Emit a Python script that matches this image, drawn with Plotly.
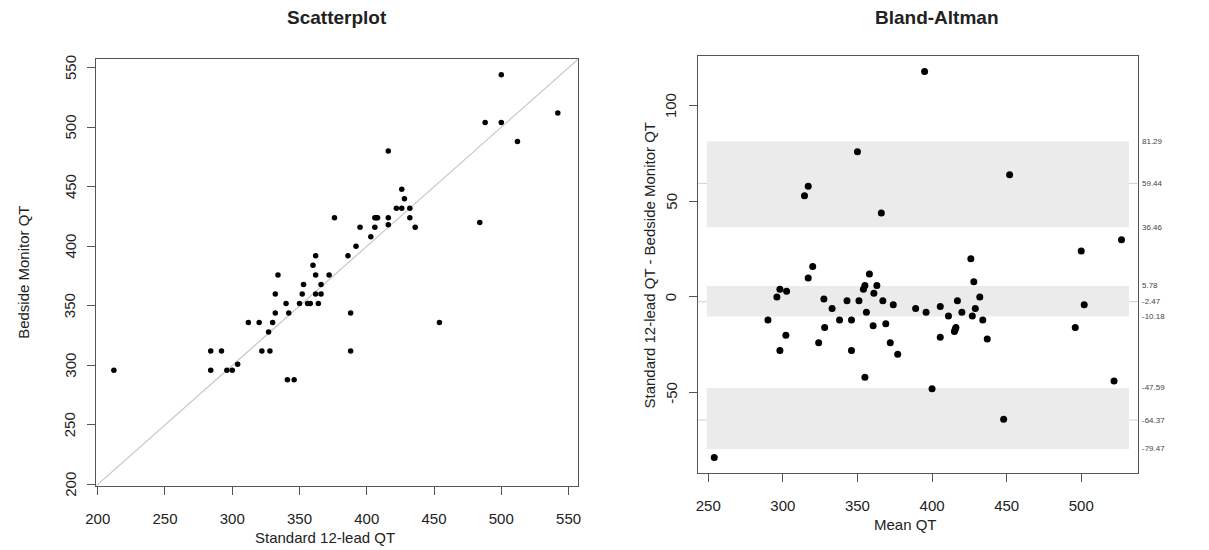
import plotly.graph_objects as go

# ---- data ----
standard_qt = [500, 542, 488, 500, 512, 416, 426, 428, 422, 426, 432, 376, 406, 407, 408,
               416, 432, 416, 484, 395, 406, 436, 403, 392, 386, 362, 360, 334, 362, 372,
               353, 366, 332, 352, 362, 366, 340, 350, 356, 358, 364, 332, 342, 388, 312,
               320, 330, 454, 327, 284, 292, 322, 328, 388, 304, 212, 284, 296, 300, 341, 346]
bedside_qt = [544, 512, 504, 504, 488, 480, 448, 440, 432, 432, 432, 424, 424, 424, 424,
              424, 424, 418, 420, 416, 416, 416, 408, 400, 392, 392, 384, 376, 376, 376,
              368, 368, 360, 360, 360, 360, 352, 352, 352, 352, 352, 344, 344, 344, 336,
              336, 336, 336, 328, 312, 312, 312, 312, 312, 301, 296, 296, 296, 296, 288, 288]

# Bland-Altman reference values (labels on right side)
ba_mean_diff = -2.47
ba_mean_ci = [-10.18, 5.78]
ba_upper_loa = 59.44
ba_upper_ci = [36.46, 81.29]
ba_lower_loa = -64.37
ba_lower_ci = [-79.47, -47.59]
ba_labels = [81.29, 59.44, 36.46, 5.78, -2.47, -10.18, -47.59, -64.37, -79.47]

scatter_ticks = [200, 250, 300, 350, 400, 450, 500, 550]
ba_xticks = [250, 300, 350, 400, 450, 500]
ba_yticks = [-50, 0, 50, 100]

# ---- derived Bland-Altman series ----
mean_qt = [(a + b) / 2 for a, b in zip(standard_qt, bedside_qt)]
diff_qt = [a - b for a, b in zip(standard_qt, bedside_qt)]

W, H = 1209, 550
def px(x): return x / W
def py(y): return 1 - y / H

def ext(lo, hi, f=0.04):
    d = (hi - lo) * f
    return [lo - d, hi + d]

allv = standard_qt + bedside_qt
sc_range = ext(min(allv), max(allv))
ba_xr = ext(min(mean_qt), max(mean_qt))
ba_yr = ext(min(diff_qt), max(diff_qt))

FONT = "Liberation Sans, Arial, sans-serif"
AX = "#555555"
TXT = "#222222"

fig = go.Figure()

# identity line
fig.add_trace(go.Scatter(x=sc_range, y=sc_range, mode="lines",
                         line=dict(color="#c8c8c8", width=1.2), hoverinfo="skip",
                         xaxis="x", yaxis="y"))
fig.add_trace(go.Scatter(x=standard_qt, y=bedside_qt, mode="markers",
                         marker=dict(color="black", size=5.5), xaxis="x", yaxis="y"))
fig.add_trace(go.Scatter(x=mean_qt, y=diff_qt, mode="markers",
                         marker=dict(color="black", size=7), xaxis="x2", yaxis="y2"))

shapes = []
bx0, bx1 = min(mean_qt) - 5, max(mean_qt) + 5
for lo, hi in [ba_upper_ci, ba_mean_ci, ba_lower_ci]:
    shapes.append(dict(type="rect", xref="x2", yref="y2", x0=bx0, x1=bx1, y0=lo, y1=hi,
                       fillcolor="#ebebeb", line=dict(width=0), layer="below"))
for v in [ba_upper_loa, ba_mean_diff, ba_lower_loa]:
    shapes.append(dict(type="line", xref="x2 domain", yref="y2", x0=0, x1=1, y0=v, y1=v,
                       line=dict(color="#d0d0d0", width=1), layer="below"))

annotations = []
for v in ba_labels:
    annotations.append(dict(xref="x2 domain", yref="y2", x=1.004, y=v, text=f"{v:.2f}",
                            showarrow=False, xanchor="left", yanchor="middle",
                            font=dict(size=8, color="#444444", family=FONT)))

# rotated y tick labels (R style, las=0)
for v in scatter_ticks:
    annotations.append(dict(xref="paper", yref="y", x=px(60), y=v, text=str(v),
                            showarrow=False, xanchor="center", yanchor="middle",
                            textangle=-90, font=dict(size=15, color=TXT, family=FONT)))
for v in ba_yticks:
    annotations.append(dict(xref="paper", yref="y2", x=px(668), y=v, text=str(v),
                            showarrow=False, xanchor="center", yanchor="middle",
                            textangle=-90, font=dict(size=15, color=TXT, family=FONT)))

def ann(text, x, y, size=15, bold=False, angle=0):
    annotations.append(dict(xref="paper", yref="paper", x=px(x), y=py(y),
                            text=f"<b>{text}</b>" if bold else text, showarrow=False,
                            xanchor="center", yanchor="middle", textangle=angle,
                            font=dict(size=size, color=TXT, family=FONT)))

ann("Scatterplot", 330, 18, size=19, bold=True)
ann("Bland-Altman", 937, 18, size=19, bold=True)
ann("Standard 12-lead QT", 318, 537)
ann("Bedside Monitor QT", 12, 272, angle=-90)
ann("Mean QT", 905, 524)
ann("Standard 12-lead QT - Bedside Monitor QT", 645, 265, angle=-90)

axis_common = dict(showgrid=False, zeroline=False, showline=True, mirror=True,
                   linecolor=AX, linewidth=1, ticks="outside", ticklen=8, tickcolor=AX,
                   tickwidth=1, tickfont=dict(size=15, color=TXT, family=FONT))

fig.update_layout(
    width=W, height=H, margin=dict(l=0, r=0, t=0, b=0),
    paper_bgcolor="white", plot_bgcolor="white", showlegend=False,
    font=dict(family=FONT),
    xaxis=dict(domain=[px(86), px(574)], range=sc_range, tickvals=scatter_ticks,
               anchor="y", ticklabelstandoff=11, **axis_common),
    yaxis=dict(domain=[py(486), py(59)], range=sc_range, tickvals=scatter_ticks,
               anchor="x", showticklabels=False, **axis_common),
    xaxis2=dict(domain=[px(695), px(1140)], range=ba_xr, tickvals=ba_xticks,
                anchor="y2", ticklabelstandoff=11, **axis_common),
    yaxis2=dict(domain=[py(473), py(56)], range=ba_yr, tickvals=ba_yticks,
                anchor="x2", showticklabels=False, **axis_common),
    shapes=shapes, annotations=annotations,
)

fig.write_html("out.html")
